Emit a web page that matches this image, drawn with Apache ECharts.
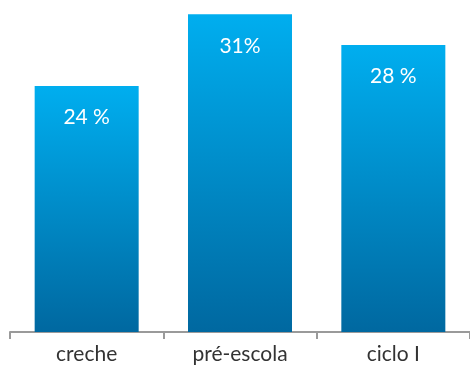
<!DOCTYPE html>
<html>
<head>
<meta charset="utf-8">
<script src="https://cdn.jsdelivr.net/npm/echarts@6/dist/echarts.min.js"></script>
<style>
  html, body { margin: 0; padding: 0; background: #fff; }
  #chart { width: 470px; height: 367px; }
</style>
</head>
<body>
<div id="chart"></div>
<script>
const categories = ['creche', 'pré-escola', 'ciclo I'];
const values = [24, 31, 28];
const valueLabels = ['24 %', '31%', '28 %'];

const chart = echarts.init(document.getElementById('chart'));

chart.setOption({
    animation: false,
    grid: { left: 10, width: 466, top: 0, bottom: 35 },
    xAxis: {
        type: 'category',
        data: categories,
        axisLine: { lineStyle: { color: '#9a9a9a', width: 2 } },
        axisTick: { show: true, length: 7, lineStyle: { color: '#9a9a9a', width: 2 } },
        axisLabel: {
            color: '#333',
            fontSize: 21,
            fontFamily: 'Lato',
            margin: 12
        }
    },
    yAxis: {
        type: 'value',
        min: 0,
        max: 32.4,
        show: false,
        splitLine: { show: false }
    },
    series: [{
        type: 'bar',
        data: values,
        barWidth: 104,
        itemStyle: {
            color: new echarts.graphic.LinearGradient(0, 0, 0, 1, [
                { offset: 0, color: '#00aeef' },
                { offset: 1, color: '#0068a0' }
            ])
        },
        label: {
            show: true,
            position: 'insideTop',
            distance: 21,
            color: '#fff',
            fontSize: 21,
            fontFamily: 'Lato',
            formatter: p => valueLabels[p.dataIndex]
        }
    }]
});
</script>
</body>
</html>
